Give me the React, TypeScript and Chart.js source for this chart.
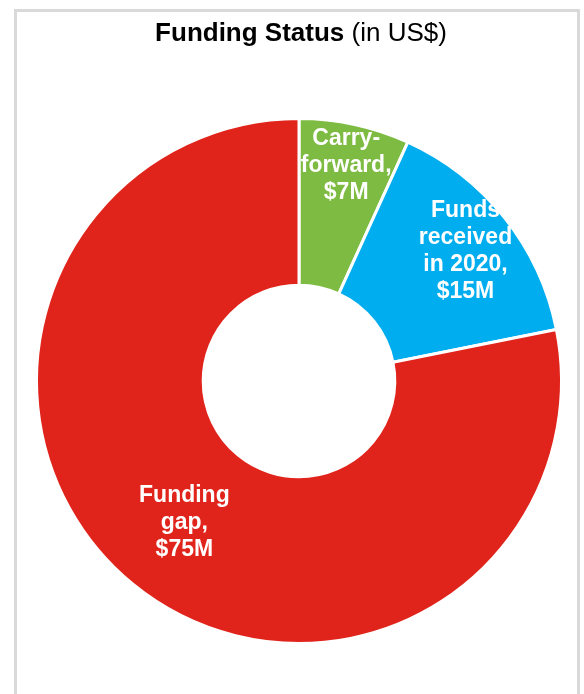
import React, { useEffect, useRef } from "react";
import { Chart, registerables } from "chart.js";

Chart.register(...registerables);

const categories = ["Carry-forward", "Funds received in 2020", "Funding gap"];
const values = [6.6, 14.6, 75.8];
const labelLines = [
  ["Carry-", "forward,", "$7M"],
  ["Funds", "received", "in 2020,", "$15M"],
  ["Funding", "gap,", "$75M"],
];
const colors = ["#7DBB42", "#00AEEF", "#E1241B"];
const labelRadialFraction = [0.76, 0.7, 0.51];
const titleBold = "Funding Status";
const titleNormal = " (in US$)";

const FONT = "'Liberation Sans', Arial, Helvetica, sans-serif";

const labelPlugin = {
  id: "sliceLabels",
  afterDatasetsDraw(chart: any) {
    const ctx = chart.ctx;
    const meta = chart.getDatasetMeta(0);
    ctx.save();
    ctx.fillStyle = "#ffffff";
    ctx.font = `bold 23px ${FONT}`;
    ctx.textAlign = "center";
    ctx.textBaseline = "middle";
    const lh = 27;
    meta.data.forEach((arc: any, i: number) => {
      const p = arc.getProps(["x", "y", "startAngle", "endAngle", "innerRadius", "outerRadius"], true);
      const mid = (p.startAngle + p.endAngle) / 2;
      const r = p.innerRadius + labelRadialFraction[i] * (p.outerRadius - p.innerRadius);
      const cx = p.x + Math.cos(mid) * r;
      const cy = p.y + Math.sin(mid) * r;
      const lines = labelLines[i];
      const n = lines.length;
      lines.forEach((t, k) => {
        ctx.fillText(t, cx, cy + (k - (n - 1) / 2) * lh + 2);
      });
    });
    ctx.restore();
  },
  afterDraw(chart: any) {
    const ctx = chart.ctx;
    ctx.save();
    ctx.fillStyle = "#000000";
    ctx.textBaseline = "alphabetic";
    ctx.textAlign = "left";
    ctx.font = `bold 26px ${FONT}`;
    const w1 = ctx.measureText(titleBold).width;
    ctx.font = `26px ${FONT}`;
    const w2 = ctx.measureText(titleNormal).width;
    const x0 = 301 - (w1 + w2) / 2;
    ctx.font = `bold 26px ${FONT}`;
    ctx.fillText(titleBold, x0, 41);
    ctx.font = `26px ${FONT}`;
    ctx.fillText(titleNormal, x0 + w1, 41);
    ctx.restore();
  },
};

export default function App() {
  const ref = useRef<HTMLCanvasElement | null>(null);
  useEffect(() => {
    if (!ref.current) return;
    const chart = new Chart(ref.current, {
      type: "doughnut",
      data: {
        labels: categories,
        datasets: [
          {
            data: values,
            backgroundColor: colors,
            borderColor: "#ffffff",
            borderWidth: 3,
            hoverOffset: 0,
          },
        ],
      },
      options: {
        animation: false,
        responsive: false,
        cutout: "36.5%",
        layout: { padding: { left: 35, right: 21, top: 117, bottom: 49 } },
        plugins: {
          legend: { display: false },
          title: { display: false },
          tooltip: { enabled: false },
        },
        events: [],
      },
      plugins: [labelPlugin],
    });
    return () => chart.destroy();
  }, []);
  return (
    <div style={{ position: "absolute", left: 0, top: 0, width: 584, height: 694, overflow: "hidden", background: "#fff" }}>
      <div
        style={{
          position: "absolute",
          left: 14,
          top: 9,
          width: 566,
          height: 720,
          boxSizing: "border-box",
          border: "3px solid #d9d9d9",
        }}
      />
      <canvas ref={ref} width={584} height={694} style={{ position: "absolute", left: 0, top: 0, width: 584, height: 694 }} />
    </div>
  );
}
